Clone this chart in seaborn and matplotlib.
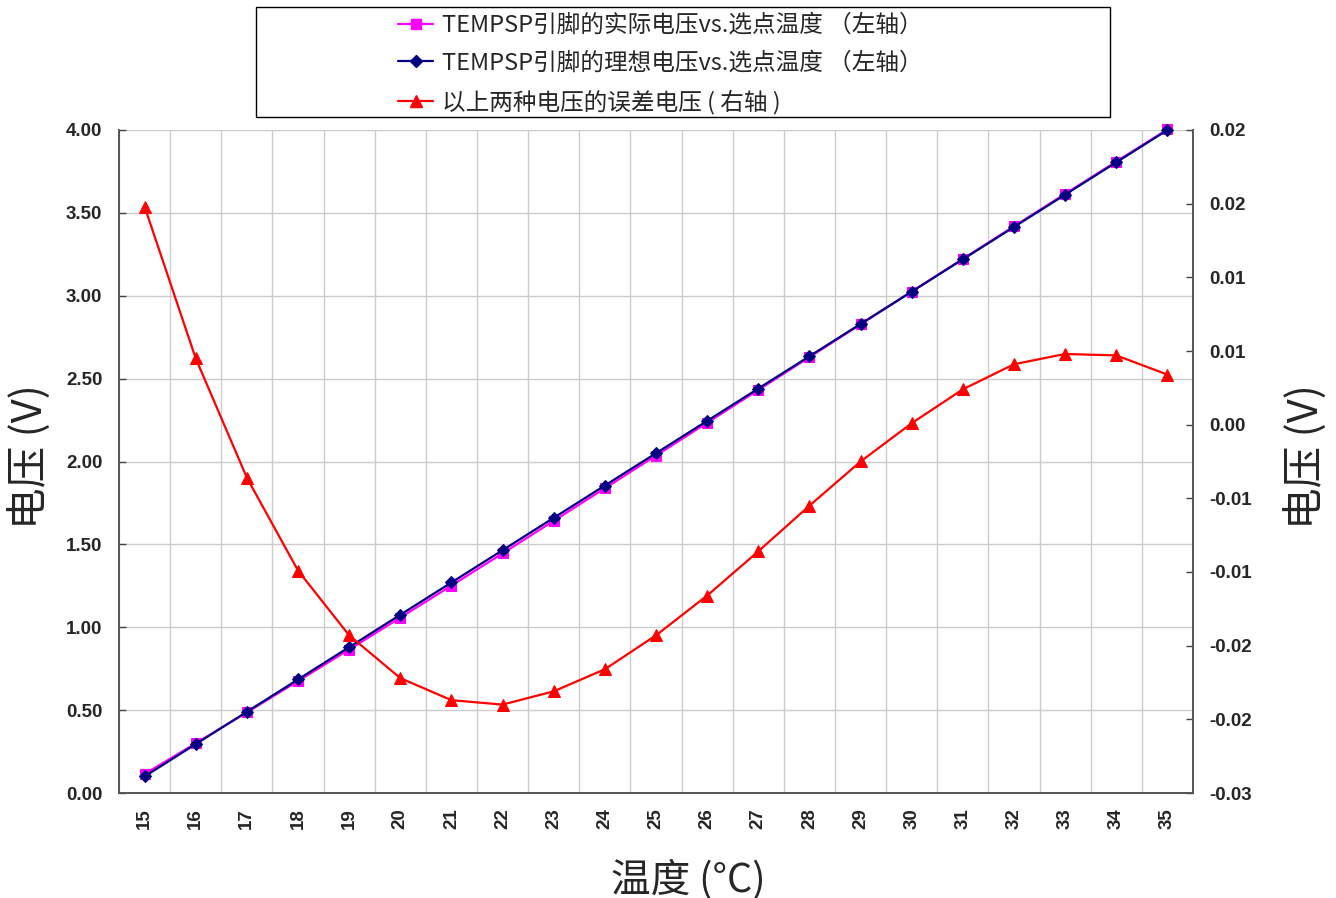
import numpy as np
import pandas as pd
import seaborn as sns
import matplotlib.pyplot as plt
from matplotlib.patches import Rectangle
from matplotlib.lines import Line2D

# temperature points (x axis categories)
temps = [15, 16, 17, 18, 19, 20, 21, 22, 23, 24, 25,
         26, 27, 28, 29, 30, 31, 32, 33, 34, 35]

# ideal TEMPSP voltage (left axis)
ideal_v = [0.100, 0.295, 0.490, 0.685, 0.880, 1.075, 1.270, 1.465, 1.660, 1.855, 2.050,
           2.245, 2.440, 2.635, 2.830, 3.025, 3.220, 3.415, 3.610, 3.805, 4.000]

# actual TEMPSP voltage (left axis)
actual_v = [0.1148, 0.2995, 0.4864, 0.6751, 0.8657, 1.0578, 1.2513, 1.4460, 1.6419, 1.8384, 2.0357,
            2.2334, 2.4314, 2.6295, 2.8275, 3.0251, 3.2224, 3.4191, 3.6148, 3.8097, 4.0034]

# error voltage (right axis)
error_v = [0.0148, 0.0045, -0.0036, -0.0099, -0.0143, -0.0172, -0.0187, -0.0190, -0.0181, -0.0166, -0.0143,
           -0.0116, -0.0086, -0.0055, -0.0025, 0.0001, 0.0024, 0.0041, 0.0048, 0.0047, 0.0034]

left_ticks = [0.0, 0.5, 1.0, 1.5, 2.0, 2.5, 3.0, 3.5, 4.0]
right_ticks = [-0.025, -0.02, -0.015, -0.01, -0.005, 0.0, 0.005, 0.01, 0.015, 0.02]
right_tick_labels = ["-0.03", "-0.02", "-0.02", "-0.01", "-0.01", "0.00", "0.01", "0.01", "0.02", "0.02"]

labels = ["TEMPSP引脚的实际电压vs.选点温度 （左轴）",
          "TEMPSP引脚的理想电压vs.选点温度 （左轴）",
          "以上两种电压的误差电压 ( 右轴 )"]

df = pd.DataFrame({"temp": temps, "ideal": ideal_v, "actual": actual_v, "error": error_v})

sns.set_style("white")
plt.rcParams['font.family'] = ['Noto Sans CJK SC', 'DejaVu Sans']

tick_font = {"family": "Liberation Sans", "weight": "bold", "size": 13.5}

fig = plt.figure(figsize=(13.36, 8.98), dpi=100)
ax = fig.add_axes([119 / 1336, 1 - 793 / 898, 1074 / 1336, 663 / 898])

sns.lineplot(data=df, x="temp", y="actual", ax=ax, color="#FF00FF", marker="s",
             markersize=7, markeredgecolor="#FF00FF", linewidth=1.6, clip_on=False)
sns.lineplot(data=df, x="temp", y="ideal", ax=ax, color="#000080", marker="D",
             markersize=6, markeredgecolor="#000080", linewidth=1.6, clip_on=False)

ax2 = ax.twinx()
sns.lineplot(data=df, x="temp", y="error", ax=ax2, color="#FF0000", marker="^",
             markersize=8, markeredgecolor="#FF0000", linewidth=1.6, clip_on=False)

# x axis: categories, grid and tick marks sit between them
ax.set_xlim(14.5, 35.5)
ax.set_xticks(temps)
ax.set_xticks(np.arange(14.5, 36, 1), minor=True)
ax.set_xticklabels([str(t) for t in temps], rotation=90, fontdict=tick_font)
ax.tick_params(axis="x", which="major", length=0, pad=11)
ax.tick_params(axis="x", which="minor", direction="out", length=6, width=1, color="#444444")

ax.set_ylim(0, 4)
ax.set_yticks(left_ticks)
ax.set_yticklabels([f"{v:.2f}" for v in left_ticks], fontdict=tick_font)
ax.tick_params(axis="y", direction="in", length=5, width=1, color="#444444", pad=12)

ax.grid(False)
ax.grid(True, which="minor", axis="x", color="#cccccc", linewidth=1)
ax.grid(True, which="major", axis="y", color="#cccccc", linewidth=1)
ax.set_axisbelow(True)

ax2.set_ylim(-0.025, 0.02)
ax2.set_yticks(right_ticks)
ax2.set_yticklabels(right_tick_labels, fontdict=tick_font)
ax2.tick_params(axis="y", direction="in", length=5, width=1, color="#444444", pad=12)
ax2.set_xlim(14.5, 35.5)

for a in (ax, ax2):
    for s in ["left", "right", "bottom"]:
        a.spines[s].set_color("#555555")
        a.spines[s].set_linewidth(1.2)
    a.spines["top"].set_visible(False)

ax.set_xlabel("温度 (°C)", fontsize=28.5)
ax.xaxis.set_label_coords((688 - 119) / 1074, (793 - 880) / 663)
ax.xaxis.label.set_va("center")
ax.set_ylabel("电压 (V)", fontsize=30)
ax.yaxis.set_label_coords((30 - 119) / 1074, (793 - 457) / 663)
ax.yaxis.label.set_va("center")
ax2.set_ylabel("电压 (V)", fontsize=30, rotation=90)
ax2.yaxis.set_label_coords((1306 - 119) / 1074, (793 - 457) / 663)
ax2.yaxis.label.set_va("center")

# legend box above plot
fig.patches.append(Rectangle((256 / 1336, 1 - 117 / 898), 854 / 1336, 110 / 898,
                             transform=fig.transFigure, fill=False,
                             edgecolor="black", linewidth=1))
handles = [
    Line2D([], [], color="#FF00FF", marker="s", markersize=7, linewidth=1.6),
    Line2D([], [], color="#000080", marker="D", markersize=6, linewidth=1.6),
    Line2D([], [], color="#FF0000", marker="^", markersize=8, linewidth=1.6),
]
fig.legend(handles, labels, loc="upper left", bbox_to_anchor=(398 / 1336, 1 - 14 / 898),
           frameon=False, fontsize=17, handlelength=1.5, handletextpad=0.35,
           labelspacing=0.62, borderpad=0, borderaxespad=0)

fig.savefig("out.png", dpi=100)
